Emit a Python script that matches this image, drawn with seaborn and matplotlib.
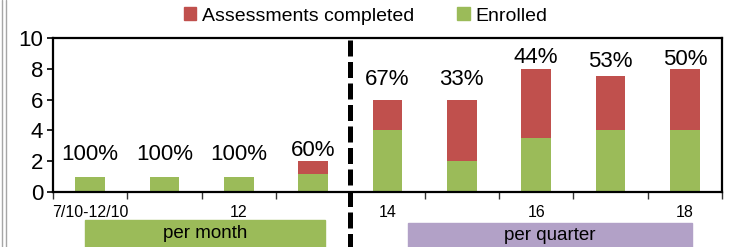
import matplotlib
matplotlib.use("Agg")
import matplotlib.pyplot as plt
import seaborn as sns
import pandas as pd
from matplotlib.patches import Rectangle
from matplotlib.lines import Line2D

# chart data
categories = ["7/10-12/10", "11", "12", "13", "14", "15", "16", "17", "18"]
tick_labels = ["7/10-12/10", "", "12", "", "14", "", "16", "", "18"]
assessments = [1, 1, 1, 2, 6, 6, 8, 7.5, 8]
enrolled = [1, 1, 1, 1.2, 4, 2, 3.5, 4, 4]
pct_labels = ["100%", "100%", "100%", "60%", "67%", "33%", "44%", "53%", "50%"]
label_y = [2.45, 2.45, 2.45, 2.7, 7.3, 7.3, 8.75, 8.45, 8.6]

red = "#C0504D"
green = "#9BBB59"
purple = "#B2A1C7"

sns.set_style("white")
plt.rcParams["font.family"] = ["Liberation Sans", "DejaVu Sans"]
plt.rcParams["text.color"] = "black"
plt.rcParams["xtick.color"] = "black"
plt.rcParams["ytick.color"] = "black"

df = pd.DataFrame({"cat": categories, "assess": assessments, "enrolled": enrolled})

fig = plt.figure(figsize=(7.31, 2.47), dpi=100)
ax = fig.add_axes([53 / 731, 1 - 192 / 247, 669 / 731, 154 / 247])

sns.barplot(data=df, x="cat", y="assess", order=categories, color=red,
            width=0.4, saturation=1, ax=ax, linewidth=0, edgecolor="none")
sns.barplot(data=df, x="cat", y="enrolled", order=categories, color=green,
            width=0.4, saturation=1, ax=ax, linewidth=0, edgecolor="none")

for i, (t, y) in enumerate(zip(pct_labels, label_y)):
    ax.text(i, y, t, ha="center", va="center", fontsize=16)

ax.set_xlim(-0.5, 8.5)
ax.set_ylim(0, 10)
ax.set_yticks(range(0, 11, 2))
ax.tick_params(axis="y", labelsize=16, direction="out", length=4, width=1.2, left=True, pad=3)
ax.set_xticks([i - 0.5 for i in range(10)])
ax.set_xticklabels([])
ax.set_xticks(range(9), minor=True)
ax.set_xticklabels(tick_labels, minor=True, fontsize=11.5)
ax.tick_params(axis="x", which="major", direction="out", length=5, width=1, bottom=True, color="#333333")
ax.tick_params(axis="x", which="minor", length=0, pad=9)
ax.set_xlabel("")
ax.set_ylabel("")
for s in ax.spines.values():
    s.set_color("black")
    s.set_linewidth(1.6)
    s.set_visible(True)

# divider between monthly and quarterly data
ax.plot([3.5, 3.5], [9.9, -3.6], color="black", lw=3.6, dashes=(3.2, 1.1),
        clip_on=False, zorder=5)

# legend
handles = [Rectangle((0, 0), 1, 1, color=red), Rectangle((0, 0), 1, 1, color=green)]
fig.legend(handles, ["Assessments completed", "Enrolled"], loc="center",
           bbox_to_anchor=(0.5, 1 - 16 / 247), ncol=2, frameon=False, fontsize=14,
           handlelength=0.65, handleheight=0.65, handletextpad=0.3, columnspacing=2.2)

# group boxes
fig.add_artist(Rectangle((85 / 731, 0), 240 / 731, 27 / 247, transform=fig.transFigure,
                         color=green, zorder=1))
fig.text(205 / 731, 1 - 234 / 247, "per month", ha="center", va="center", fontsize=13.5)
fig.add_artist(Rectangle((408 / 731, 0), 284 / 731, 24 / 247, transform=fig.transFigure,
                         color=purple, zorder=1))
fig.text(550 / 731, 1 - 235 / 247, "per quarter", ha="center", va="center", fontsize=13.5)

# grey frame edge on the left
for xp in (2, 5.5):
    fig.add_artist(Line2D([xp / 731, xp / 731], [0, 1], transform=fig.transFigure,
                          color="#A6A6A6", lw=1))

fig.savefig("out.png", dpi=100)
